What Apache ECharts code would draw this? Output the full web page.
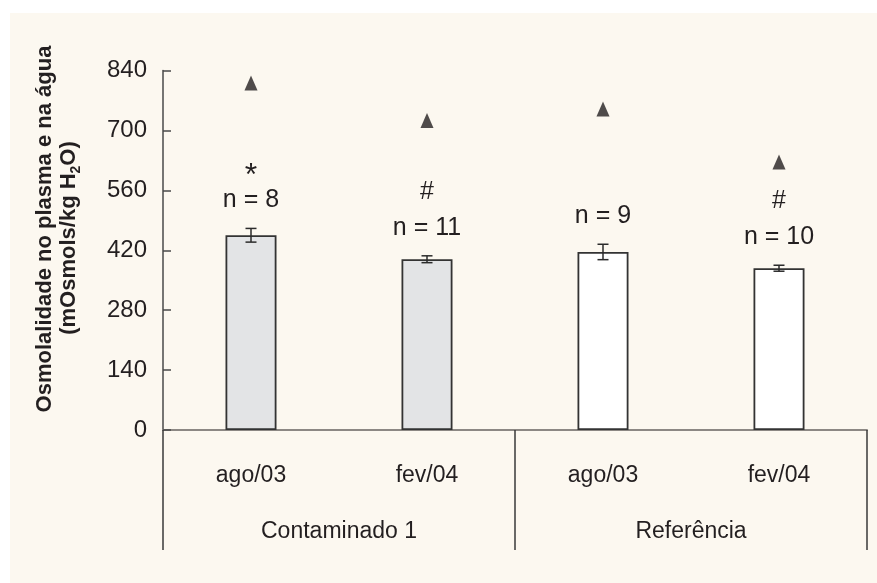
<!DOCTYPE html>
<html>
<head>
<meta charset="utf-8">
<script src="https://cdn.jsdelivr.net/npm/echarts@6/dist/echarts.min.js"></script>
<style>
  html, body { margin: 0; padding: 0; background: #ffffff; }
  #chart { width: 877px; height: 583px; }
</style>
</head>
<body>
<div id="chart"></div>
<script>
// Sampling periods (one bar each) and the two sites they belong to
const periods = ['ago/03', 'fev/04', 'ago/03', 'fev/04'];
const sites = ['Contaminado 1', 'Referência'];

// Plasma osmolality: mean and standard error (mOsmols/kg H2O)
const plasmaMean = [455, 399, 416, 378];
const plasmaErr = [16, 8, 18, 7];

// Water osmolality (triangles)
const waterOsm = [811, 723, 750, 626];

// Sample sizes and significance marks printed above each bar
const sampleLabels = ['n = 8', 'n = 11', 'n = 9', 'n = 10'];
const signifMarks = ['*', '#', '', '#'];

// Value axis ticks
const yTicks = [0, 140, 280, 420, 560, 700, 840];

const FONT = '"Liberation Sans", Arial, Helvetica, sans-serif';
const INK = '#231F20';
const barFills = ['#E3E4E6', '#E3E4E6', '#FFFFFF', '#FFFFFF'];

const chart = echarts.init(document.getElementById('chart'), null, { renderer: 'canvas' });

chart.setOption({
  backgroundColor: '#ffffff',
  animation: false,
  graphic: [
    {
      type: 'rect', z: -10, silent: true,
      shape: { x: 10, y: 13, width: 867, height: 570 },
      style: { fill: '#FCF8F0' }
    },
    {
      type: 'text', x: 45, y: 229, rotation: Math.PI / 2, z: 10,
      style: {
        text: 'Osmolalidade no plasma e na água',
        align: 'center', verticalAlign: 'middle',
        fontSize: 22, fontWeight: 'bold', fontFamily: FONT, fill: INK
      }
    },
    {
      type: 'text', x: 69, y: 238, rotation: Math.PI / 2, z: 10,
      style: {
        text: '{a|(mOsmols/kg H}{s|2}{a|O)}',
        align: 'center', verticalAlign: 'middle',
        fill: INK,
        rich: {
          a: { fontSize: 22, fontWeight: 'bold', fontFamily: FONT, fill: INK, lineHeight: 28, verticalAlign: 'middle' },
          s: { fontSize: 14, fontWeight: 'bold', fontFamily: FONT, fill: INK, lineHeight: 28, verticalAlign: 'bottom' }
        }
      }
    }
  ],
  grid: { left: 163, right: 10, top: 70.5, bottom: 153, containLabel: false },
  xAxis: [
    {
      type: 'category',
      data: periods,
      boundaryGap: true,
      axisLine: { show: true, lineStyle: { color: '#8C8884', width: 2 } },
      axisTick: { show: false },
      axisLabel: { margin: 34, fontSize: 23, fontFamily: FONT, color: INK },
      splitLine: { show: false }
    },
    {
      type: 'category',
      data: sites,
      position: 'bottom',
      boundaryGap: true,
      axisLine: { show: false },
      axisTick: { show: true, length: 120, lineStyle: { color: '#3A3A3A', width: 1.5 } },
      axisLabel: { margin: 90, fontSize: 23, fontFamily: FONT, color: INK },
      splitLine: { show: false }
    }
  ],
  yAxis: {
    type: 'value',
    min: yTicks[0],
    max: yTicks[yTicks.length - 1],
    interval: yTicks[1] - yTicks[0],
    axisLine: { show: true, lineStyle: { color: '#4A4A4A', width: 1.5 } },
    axisTick: { show: true, inside: true, length: 8, lineStyle: { color: '#4A4A4A', width: 1.5 } },
    axisLabel: { margin: 16, fontSize: 24, fontFamily: FONT, color: INK },
    splitLine: { show: false }
  },
  series: [
    {
      type: 'bar',
      xAxisIndex: 0,
      barWidth: 51,
      data: plasmaMean.map((v, i) => ({
        value: v,
        itemStyle: { color: barFills[i], borderColor: '#333333', borderWidth: 1.8 }
      })),
      z: 2
    },
    {
      type: 'custom',
      xAxisIndex: 0,
      z: 5,
      data: plasmaMean.map((v, i) => [i, v, plasmaErr[i]]),
      encode: { x: 0, y: 1 },
      renderItem: function (params, api) {
        const i = api.value(0);
        const m = api.value(1);
        const e = api.value(2);
        const hi = api.coord([i, m + e]);
        const lo = api.coord([i, m - e]);
        const x = hi[0];
        const cap = 5.5;
        const stroke = { stroke: '#2B2B2B', lineWidth: 1.5 };
        const idx = params.dataIndex;
        const children = [
          { type: 'line', shape: { x1: x, y1: hi[1], x2: x, y2: lo[1] }, style: stroke },
          { type: 'line', shape: { x1: x - cap, y1: hi[1], x2: x + cap, y2: hi[1] }, style: stroke },
          { type: 'line', shape: { x1: x - cap, y1: lo[1], x2: x + cap, y2: lo[1] }, style: stroke },
          {
            type: 'text',
            style: {
              text: sampleLabels[idx], x: x, y: hi[1] - 28,
              align: 'center', verticalAlign: 'middle',
              fontSize: 25, fontFamily: FONT, fill: INK
            }
          }
        ];
        const mark = signifMarks[idx];
        if (mark) {
          const isStar = mark === '*';
          children.push({
            type: 'text',
            style: {
              text: mark, x: x, y: hi[1] - 28 - (isStar ? 24 : 36),
              align: 'center', verticalAlign: 'middle',
              fontSize: isStar ? 32 : 25, fontFamily: FONT, fill: INK
            }
          });
        }
        return { type: 'group', children: children };
      }
    },
    {
      type: 'scatter',
      xAxisIndex: 0,
      symbol: 'triangle',
      symbolSize: [13, 15],
      itemStyle: { color: INK },
      data: waterOsm.map((v, i) => [i, v]),
      z: 4
    }
  ]
});
</script>
</body>
</html>
